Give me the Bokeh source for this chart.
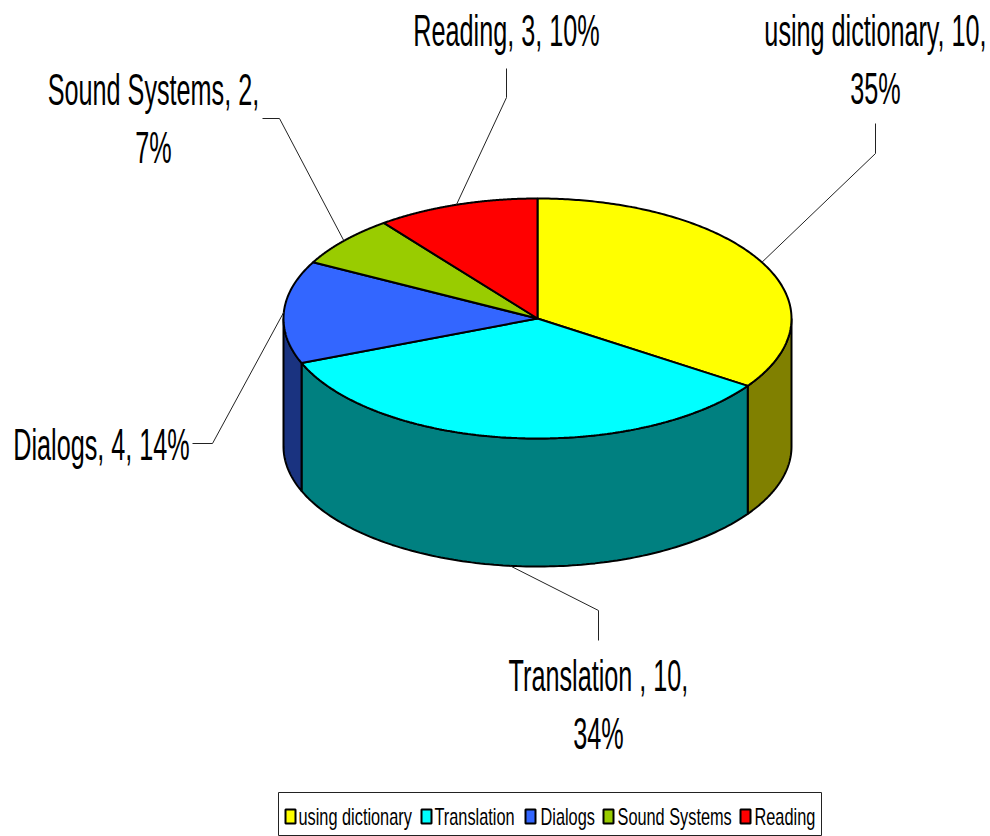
import numpy as np
from bokeh.plotting import figure
from bokeh.document import Document
from bokeh.embed import file_html
from bokeh.resources import INLINE
from bokeh.core.properties import value
from bokeh.models import CustomJS

categories = ["using dictionary", "Translation", "Dialogs", "Sound Systems", "Reading"]
values = [10, 10, 4, 2, 3]
top_colors = ["#FFFF00", "#00FFFF", "#3366FF", "#99CC00", "#FF0000"]
side_colors = ["#808000", "#008080", "#1A3380", "#4D6600", "#800000"]
label_lines = [["using dictionary, 10,", "35%"], ["Translation , 10,", "34%"], ["Dialogs, 4, 14%"],
               ["Sound Systems, 2,", "7%"], ["Reading, 3, 10%"]]
label_x = [875, 598, 101, 153, 506]
label_y = [30, 675, 444, 89, 30]
# leader elbows; each leader starts on the rim of its slice at the slice's mid angle
leader_x = [[875, 875], [598, 598], [212, 192], [279, 262], [506, 506]]
leader_y = [[153, 123], [610, 640], [443, 443], [118, 118], [97, 68]]
legend_x = [285, 421, 525, 603, 740]
legend_text_x = [298, 434, 540, 617, 754]

W, H = 990, 836
CX, CY, RX, RY, DEPTH = 537, 318, 254, 120, 128

p = figure(width=W, height=H, x_range=(0, W), y_range=(H, 0), toolbar_location=None,
           output_backend="svg", min_border=0, outline_line_color=None)
p.xaxis.visible = False
p.yaxis.visible = False
p.grid.visible = False

def ex(a): return CX + RX * np.sin(a)
def ey(a): return CY - RY * np.cos(a)

frac = np.array(values, float) / sum(values)
edges = np.concatenate([[0], np.cumsum(frac)]) * 2 * np.pi

# side walls (only the front half, angles between 90 and 270 degrees)
for i in range(len(values)):
    a0, a1 = max(edges[i], np.pi / 2), min(edges[i + 1], 3 * np.pi / 2)
    if a1 <= a0:
        continue
    a = np.linspace(a0, a1, 120)
    xs = np.concatenate([ex(a), ex(a[::-1])])
    ys = np.concatenate([ey(a), ey(a[::-1]) + DEPTH])
    p.patch(xs, ys, fill_color=side_colors[i], line_color="black", line_width=2)

# top faces
for i in range(len(values)):
    a = np.linspace(edges[i], edges[i + 1], 200)
    xs = np.concatenate([[CX], ex(a)])
    ys = np.concatenate([[CY], ey(a)])
    p.patch(xs, ys, fill_color=top_colors[i], line_color="black", line_width=2)

# leaders and labels
for i in range(len(values)):
    m = (edges[i] + edges[i + 1]) / 2
    sy = ey(m) + (DEPTH if np.cos(m) < 0 else 0)
    p.line([ex(m)] + leader_x[i], [sy] + leader_y[i], line_color="#222222", line_width=1)
    for j, t in enumerate(label_lines[i]):
        p.text([label_x[i]], [label_y[i] + j * 58], text=[t], text_align="center", text_baseline="middle",
               text_font=value("Liberation Sans"), text_font_size="45px", text_color="black")

# legend
p.quad(left=[278], right=[821], top=[792], bottom=[835], fill_color="white", line_color="#222222", line_width=1)
for i, c in enumerate(categories):
    p.quad(left=[legend_x[i]], right=[legend_x[i] + 10], top=[809], bottom=[823],
           fill_color=top_colors[i], line_color="black", line_width=2)
    p.text([legend_text_x[i]], [816], text=[c], text_baseline="middle",
           text_font=value("Liberation Sans"), text_font_size="24px", text_color="black")

# the reference's type is horizontally squeezed: condense the real SVG text
squeeze = CustomJS(code="""
function walk(root, out) {
  root.querySelectorAll('*').forEach(function (el) {
    if (el.tagName.toLowerCase() === 'text') out.push(el);
    if (el.shadowRoot) walk(el.shadowRoot, out);
  });
  return out;
}
function apply() {
  walk(document, []).forEach(function (t) {
    if (t.getAttribute('data-squeezed')) return;
    t.setAttribute('data-squeezed', '1');
    var big = parseFloat(getComputedStyle(t).fontSize) > 30;
    var s = big ? 0.56 : 0.68;
    var shift = big ? t.getBBox().width * (1 - s) / 2 : 0;
    var tr = t.getAttribute('transform') || '';
    t.setAttribute('transform', tr + ' translate(' + shift + ' 0) scale(' + s + ' 1)');
  });
}
[0, 50, 200, 500].forEach(function (d) { setTimeout(apply, d); });
""")
doc = Document()
doc.add_root(p)
doc.js_on_event("document_ready", squeeze)

open("out.html", "w").write(file_html(doc, INLINE))
